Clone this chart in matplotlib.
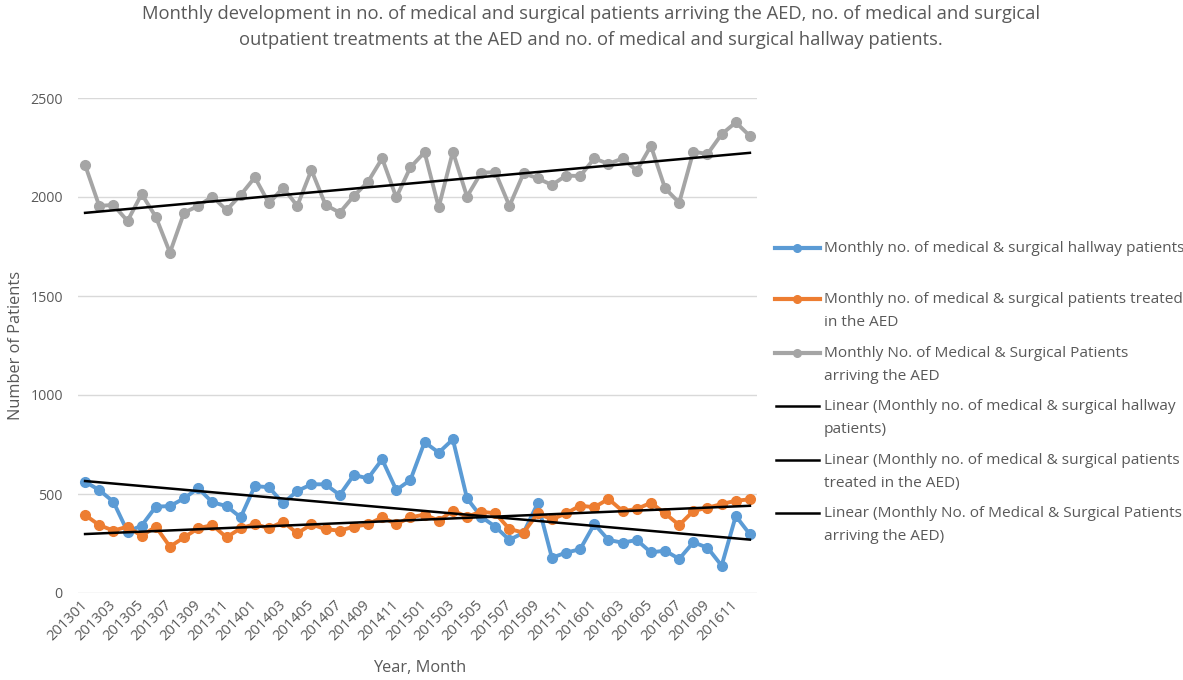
import numpy as np
import matplotlib
matplotlib.use("Agg")
import matplotlib.pyplot as plt
from matplotlib.lines import Line2D

plt.rcParams['font.family'] = ['Open Sans', 'DejaVu Sans']

months = [f"{y}{m:02d}" for y in (2013, 2014, 2015, 2016) for m in range(1, 13)]

hallway = [562, 520, 461, 310, 340, 436, 439, 478, 529, 458, 439, 382,
           540, 534, 453, 515, 549, 549, 495, 596, 579, 675, 520, 571,
           762, 709, 776, 478, 385, 335, 268, 305, 453, 178, 204, 221,
           348, 268, 254, 268, 205, 214, 172, 256, 229, 138, 389, 296]

treated = [394, 343, 315, 335, 288, 335, 234, 281, 327, 343, 281, 327,
           348, 327, 360, 301, 347, 322, 315, 335, 347, 382, 348, 382,
           396, 365, 416, 385, 411, 402, 323, 305, 402, 372, 402, 441,
           433, 475, 414, 424, 456, 402, 343, 414, 431, 449, 466, 473]

arriving = [2162, 1955, 1960, 1879, 2015, 1900, 1719, 1921, 1955, 2002, 1934, 2010,
            2099, 1968, 2047, 1955, 2136, 1960, 1921, 2005, 2077, 2195, 1998, 2150,
            2226, 1948, 2229, 2002, 2123, 2125, 1955, 2120, 2094, 2061, 2108, 2106,
            2195, 2167, 2195, 2133, 2258, 2044, 1971, 2229, 2217, 2317, 2377, 2308]

title_lines = [
    "Monthly development in no. of medical and surgical patients arriving the AED, no. of medical and surgical",
    "outpatient treatments at the AED and no. of medical and surgical hallway patients.",
]

series_labels = [
    "Monthly no. of medical & surgical hallway patients",
    "Monthly no. of medical & surgical patients treated\nin the AED",
    "Monthly No. of Medical & Surgical Patients\narriving the AED",
    "Linear (Monthly no. of medical & surgical hallway\npatients)",
    "Linear (Monthly no. of medical & surgical patients\ntreated in the AED)",
    "Linear (Monthly No. of Medical & Surgical Patients\narriving the AED)",
]
colors = ["#5B9BD5", "#ED7D31", "#A5A5A5"]
TXT = "#595959"
W, H = 1183, 680

fig = plt.figure(figsize=(W / 100, H / 100), dpi=100)
ax = fig.add_axes([78 / W, 87 / H, (757 - 78) / W, (593 - 98) / H])

x = np.arange(len(months))
for data, c in zip([hallway, treated, arriving], colors):
    ax.plot(x, data, color=c, lw=2.8, marker='o', ms=7, solid_capstyle='round', zorder=3)
for data in [hallway, treated, arriving]:
    k, b = np.polyfit(x, data, 1)
    ax.plot(x, k * x + b, color='black', lw=1.8, zorder=4)

ax.set_xlim(-0.5, len(months) - 0.5)
ax.set_ylim(0, 2500)
ax.set_yticks(np.arange(0, 2501, 500))
ax.set_xticks(x[::2])
ax.set_xticklabels(months[::2], rotation=45, ha='right', va='center',
                   rotation_mode='anchor', fontsize=10.6, color=TXT)
ax.tick_params(axis='y', labelsize=10.2, labelcolor=TXT, length=0, pad=11)
ax.tick_params(axis='x', length=0, pad=7)
ax.grid(axis='y', color='#D9D9D9', lw=1)
ax.set_axisbelow(True)
for s in ax.spines.values():
    s.set_visible(False)

ax.set_xlabel("Year, Month", fontsize=11.8, color=TXT)
ax.xaxis.set_label_coords((420 - 78) / (757 - 78), -(668 - 593) / (593 - 98))
ax.xaxis.label.set_va('center')
ax.set_ylabel("Number of Patients", fontsize=11.8, color=TXT)
ax.yaxis.set_label_coords(-(78 - 16) / (757 - 78), 0.5)
ax.yaxis.label.set_va('center')

for line, yy in zip(title_lines, [14, 40]):
    fig.text(591 / W, 1 - yy / H, line, ha='center', va='center',
             fontsize=13.2, color=TXT)

# legend (manual layout)
ys = [248, 299, 353, 406, 460, 513]
for i, (lab, yy) in enumerate(zip(series_labels, ys)):
    yf = 1 - yy / H
    if i < 3:
        fig.add_artist(Line2D([775 / W, 820 / W], [yf, yf], color=colors[i], lw=3,
                              transform=fig.transFigure))
        fig.add_artist(Line2D([797 / W], [yf], color=colors[i], marker='o', ms=5.5,
                              transform=fig.transFigure))
    else:
        fig.add_artist(Line2D([776 / W, 819 / W], [yf, yf], color='black', lw=1.8,
                              transform=fig.transFigure))
    fig.text(824 / W, yf + 7 / H, lab, ha='left', va='top', fontsize=11.1, color=TXT,
             linespacing=1.72, transform=fig.transFigure)

fig.savefig("out.png", dpi=100)
